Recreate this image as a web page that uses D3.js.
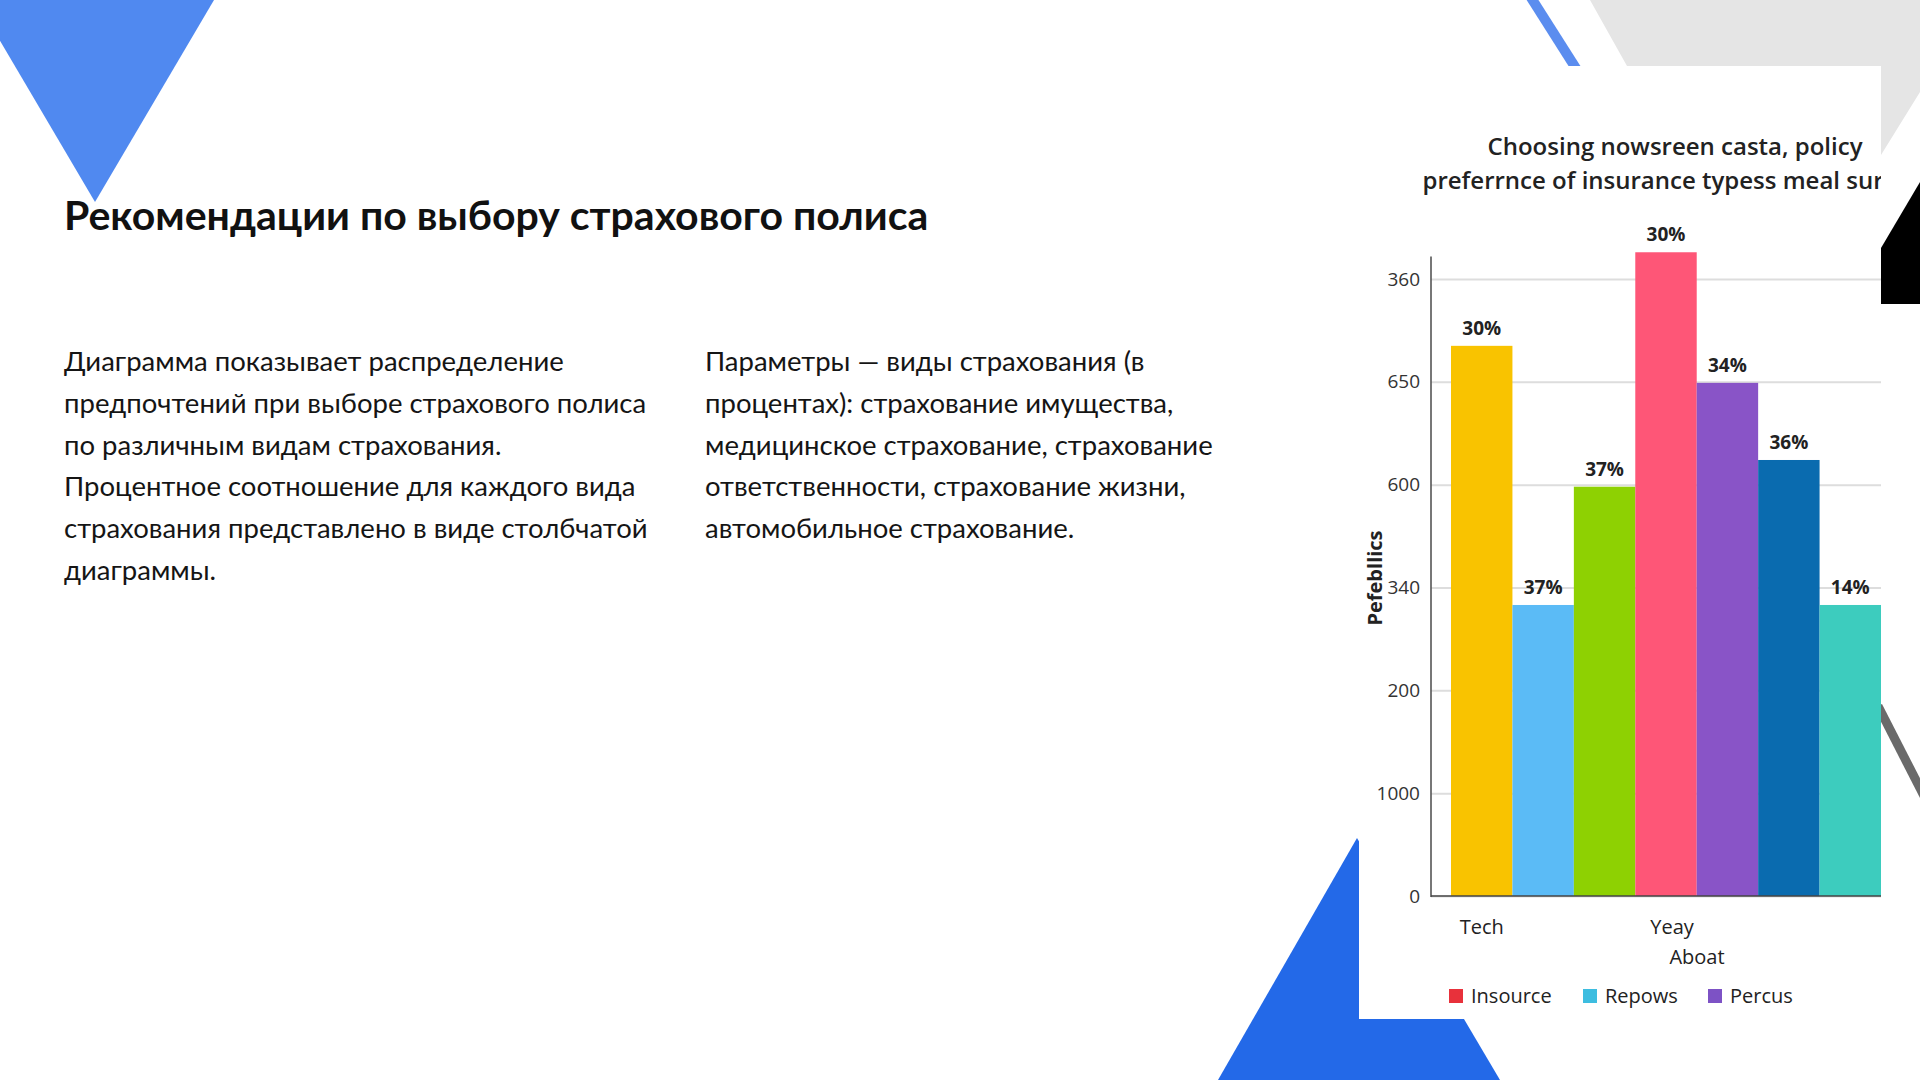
<!DOCTYPE html>
<html><head><meta charset="utf-8">
<script src="https://cdn.jsdelivr.net/npm/d3@7"></script>
<style>html,body{margin:0;padding:0;background:#ffffff;} svg{display:block}</style>
</head><body>
<svg id="c" width="1920" height="1080"></svg>
<script>
// ---------- data ----------
const categories = ["c1","c2","c3","c4","c5","c6","c7"];
const xTickLabels = ["Tech","","","Yeay","","",""];
// bar heights measured in gridline steps (0 = baseline, 6 = top gridline)
const values = [5.35, 2.83, 3.98, 6.26, 4.99, 4.24, 2.83];
const barLabels = ["30%","37%","37%","30%","34%","36%","14%"];
const barColors = ["#F9C300","#5BBBF6","#8ED102","#FE5677","#8954C7","#0A6BAF","#3DCCBE"];
const yTickValues = [0,1,2,3,4,5,6];
const yTickLabels = ["0","1000","200","340","600","650","360"];
const legendNames = ["Insource","Repows","Percus"];
const legendColors = ["#E8313B","#3DBDE0","#7D52C5"];
const chartTitle = ["Choosing nowsreen casta, policy","preferrnce of insurance typess meal sura"];
const yAxisTitle = "Pefebllics";
const xAxisTitle = "Aboat";
const pageTitle = "Рекомендации по выбору страхового полиса";
const para1 = ["Диаграмма показывает распределение","предпочтений при выборе страхового полиса","по различным видам страхования.","Процентное соотношение для каждого вида","страхования представлено в виде столбчатой","диаграммы."];
const para2 = ["Параметры — виды страхования (в","процентах): страхование имущества,","медицинское страхование, страхование","ответственности, страхование жизни,","автомобильное страхование."];

// ---------- drawing ----------
const svg = d3.select("#c");

// background decorations
const deco = svg.append("g");
deco.append("polygon").attr("points","-24,0 214,0 95,202").attr("fill","#5089F0");
deco.append("polygon").attr("points","1590,0 1920,0 1920,92 1881,155 1881,66 1627,66").attr("fill","#E5E5E5");
deco.append("line").attr("x1",1530).attr("y1",-4).attr("x2",1577).attr("y2",70).attr("stroke","#5B8DEF").attr("stroke-width",10);
deco.append("polygon").attr("points","1881,248 1920,182 1920,304 1881,304").attr("fill","#000000");
deco.append("line").attr("x1",1878).attr("y1",706).attr("x2",1924).attr("y2",796).attr("stroke","#6A6A6A").attr("stroke-width",9);
deco.append("polygon").attr("points","1218,1080 1357,838 1500,1080").attr("fill","#2369E8");

// page text
svg.append("text").attr("x",64).attr("y",230)
  .attr("font-family","Lato").attr("font-weight",700).attr("font-size",41).attr("fill","#111")
  .text(pageTitle);
function para(lines, x){
  svg.append("g").selectAll("text").data(lines).join("text")
    .attr("x",x).attr("y",(d,i)=>371 + i*41.8)
    .attr("font-family","Lato").attr("font-size",27.5).attr("fill","#151515")
    .text(d=>d);
}
para(para1,64);
para(para2,705);

// chart panel
const panel = {x:1359, y:66, w:522, h:953};
svg.append("defs").append("clipPath").attr("id","pclip")
  .append("rect").attr("x",panel.x).attr("y",panel.y).attr("width",panel.w).attr("height",panel.h);
svg.append("rect").attr("x",panel.x).attr("y",panel.y).attr("width",panel.w).attr("height",panel.h).attr("fill","#ffffff");
const g = svg.append("g").attr("clip-path","url(#pclip)");

const axisX = 1431, plotRight = 1881;
const x = d3.scaleBand().domain(categories).range([1451, plotRight]).padding(0);
const y = d3.scaleLinear().domain([0,6]).range([896,279]);

// chart title
g.append("g").selectAll("text").data(chartTitle).join("text")
  .attr("x",(d,i)=>i===0?1675:1660).attr("y",(d,i)=>155 + i*34)
  .attr("text-anchor","middle")
  .attr("font-family","Open Sans").attr("font-weight",600).attr("font-size",24).attr("fill","#222")
  .text(d=>d);

// gridlines
const yAxis = d3.axisLeft(y).tickValues(yTickValues).tickFormat((d,i)=>yTickLabels[i]).tickSize(-(plotRight-axisX)).tickPadding(11);
const ya = g.append("g").attr("transform",`translate(${axisX},0)`).call(yAxis);
ya.select(".domain").remove();
ya.selectAll(".tick line").attr("stroke","#DDDDDD").attr("stroke-width",2);
ya.selectAll(".tick text").attr("font-family","Open Sans").attr("font-size",19).attr("fill","#333");

// bars
g.append("g").selectAll("rect").data(values).join("rect")
  .attr("x",(d,i)=>x(categories[i]))
  .attr("y",d=>y(d))
  .attr("width",x.bandwidth())
  .attr("height",d=>y(0)-y(d))
  .attr("fill",(d,i)=>barColors[i]);

// bar labels
g.append("g").selectAll("text").data(values).join("text")
  .attr("x",(d,i)=>x(categories[i]) + x.bandwidth()/2)
  .attr("y",d=>y(d)-11)
  .attr("text-anchor","middle")
  .attr("font-family","Open Sans").attr("font-weight",700).attr("font-size",19).attr("fill","#222")
  .text((d,i)=>barLabels[i]);

// axes lines
g.append("line").attr("x1",axisX).attr("x2",axisX).attr("y1",y(6.22)).attr("y2",y(0)+1).attr("stroke","#555").attr("stroke-width",1.6);
const xAxis = d3.axisBottom(x).tickSize(0).tickPadding(24).tickFormat((d,i)=>xTickLabels[i]);
const xa = g.append("g").attr("transform",`translate(0,${y(0)})`).call(xAxis);
xa.select(".domain").attr("d",`M${axisX},0H${plotRight}`).attr("stroke","#444").attr("stroke-width",1.6);
xa.selectAll(".tick text").attr("font-family","Open Sans").attr("font-size",20).attr("fill","#222")
  .attr("dx",(d,i)=>i===3?6:0);

// axis titles
g.append("text").attr("x",1697).attr("y",964).attr("text-anchor","middle")
  .attr("font-family","Open Sans").attr("font-size",20).attr("fill","#222").text(xAxisTitle);
g.append("text").attr("transform","translate(1382,578) rotate(-90)").attr("text-anchor","middle")
  .attr("font-family","Open Sans").attr("font-weight",700).attr("font-size",20).attr("fill","#222").text(yAxisTitle);

// legend
const legendX = [1449, 1583, 1708];
const lg = g.append("g").selectAll("g").data(legendNames).join("g")
  .attr("transform",(d,i)=>`translate(${legendX[i]},996)`);
lg.append("rect").attr("x",0).attr("y",-7).attr("width",14).attr("height",14).attr("fill",(d,i)=>legendColors[i]);
lg.append("text").attr("x",22).attr("y",7).attr("font-family","Open Sans").attr("font-size",20).attr("fill","#222").text(d=>d);
</script>
</body></html>
